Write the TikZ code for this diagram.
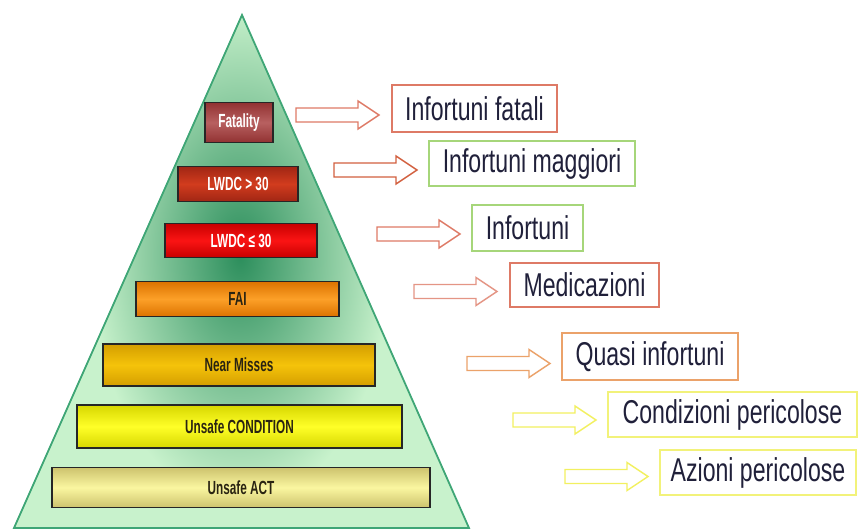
\documentclass[tikz,border=0pt]{standalone}
\usepackage{fontspec}
\setmainfont{Liberation Sans}
\newfontfamily\lblfont{Liberation Sans}[FakeStretch=0.70]
\newfontfamily\pyrfont{Liberation Sans}[FakeStretch=0.62]
\definecolor{mint}{HTML}{C8F2CC}
\definecolor{pyredge}{HTML}{3FA676}
\definecolor{deepgreen}{HTML}{2C8E5C}
\definecolor{ink}{HTML}{20203A}
\definecolor{darkink}{HTML}{2A2412}
\definecolor{salmon}{HTML}{DE7A66}
\definecolor{rust}{HTML}{D2603F}
\definecolor{leaf}{HTML}{A6D67A}
\definecolor{peach}{HTML}{EBA26A}
\definecolor{paleyel}{HTML}{F2F27A}
\definecolor{arryel}{HTML}{F2F060}
% tier colours: edge shade / centre shade
\definecolor{fatA}{RGB}{145,50,50}    \definecolor{fatB}{RGB}{184,96,96}
\definecolor{lwaA}{RGB}{160,38,20}    \definecolor{lwaB}{RGB}{210,60,30}
\definecolor{lwbA}{RGB}{200,0,0}      \definecolor{lwbB}{RGB}{250,20,20}
\definecolor{faiA}{RGB}{220,115,0}    \definecolor{faiB}{RGB}{252,160,40}
\definecolor{nmA}{RGB}{212,158,0}     \definecolor{nmB}{RGB}{245,195,10}
\definecolor{ucA}{RGB}{215,215,0}     \definecolor{ucB}{RGB}{255,255,40}
\definecolor{uaA}{RGB}{205,195,110}   \definecolor{uaB}{RGB}{250,246,160}
\begin{document}
\begin{tikzpicture}[x=1pt,y=-1pt,
  tier/.style={draw=black!85, line width=1.3pt, inner sep=0pt,
    font=\pyrfont\bfseries\fontsize{19}{19}\selectfont},
  tiershade/.style 2 args={top color=#1, bottom color=#1, middle color=#2},
  lbl/.style={draw=#1, line width=1.3pt, fill=white, inner sep=0pt,
    text=ink, font=\lblfont\fontsize{33}{33}\selectfont},
  pics/blockarrow/.style={code={
    \draw[#1, line width=1.4pt, line join=miter, fill=white]
      (0,-7) -- (62,-7) -- (62,-14) -- (83,0) -- (62,14)
      -- (62,7) -- (0,7) -- cycle;}}]
\useasboundingbox (0,0) rectangle (860,530);

% pyramid body with its soft green core
\coordinate (apex) at (242,15);
\coordinate (baseL) at (14,528);
\coordinate (baseR) at (469,528);
\fill[mint] (apex) -- (baseL) -- (baseR) -- cycle;
\begin{scope}
  \clip (apex) -- (baseL) -- (baseR) -- cycle;
  \shade[inner color=deepgreen, outer color=mint]
    (240,255) ellipse [x radius=150, y radius=250];
\end{scope}
\draw[pyredge, line width=1.8pt, line join=miter] (apex) -- (baseL) -- (baseR) -- cycle;

% tiers of the pyramid
\node[tier, tiershade={fatA}{fatB}, minimum width=68, minimum height=40, text=white]
  (fat) at (239,122.5) {Fatality};
\node[tier, tiershade={lwaA}{lwaB}, minimum width=120, minimum height=35, text=white]
  (lw1) at (238,184) {LWDC > 30};
\node[tier, tiershade={lwbA}{lwbB}, minimum width=152, minimum height=34, text=white]
  (lw2) at (241,240.5) {LWDC ≤ 30};
\node[tier, tiershade={faiA}{faiB}, minimum width=203, minimum height=35, text=darkink]
  (fai) at (237.5,299) {FAI};
\node[tier, tiershade={nmA}{nmB}, minimum width=272, minimum height=42, text=darkink]
  (nm) at (239,365) {Near Misses};
\node[tier, tiershade={ucA}{ucB}, minimum width=325, minimum height=43, text=darkink]
  (uc) at (239.5,426.5) {Unsafe CONDITION};
\node[tier, tiershade={uaA}{uaB}, minimum width=378, minimum height=40, text=darkink]
  (ua) at (241,487.5) {Unsafe ACT};

% descriptions
\node[lbl=salmon, minimum width=165, minimum height=47] (d1) at (474.5,108.5) {Infortuni fatali};
\node[lbl=leaf, minimum width=206, minimum height=45] (d2) at (532,163.5) {Infortuni maggiori};
\node[lbl=leaf, minimum width=111, minimum height=46] (d3) at (527.5,228) {Infortuni};
\node[lbl=salmon, minimum width=149, minimum height=44] (d4) at (584.5,285) {Medicazioni};
\node[lbl=peach, minimum width=176, minimum height=47] (d5) at (650,356.5) {Quasi infortuni};
\node[lbl=paleyel, minimum width=249, minimum height=45] (d6) at (732.5,414.5) {Condizioni pericolose};
\node[lbl=paleyel, minimum width=196, minimum height=45] (d7) at (758,472.5) {Azioni pericolose};

% block arrows from each tier to its description
\pic at (296,115) {blockarrow=salmon};
\pic at (334,170) {blockarrow=rust};
\pic at (377,234) {blockarrow=salmon};
\pic at (414,291.5) {blockarrow={salmon!80!white}};
\pic at (467,363.5) {blockarrow=peach};
\pic at (513,420) {blockarrow=arryel};
\pic at (565,476.5) {blockarrow=arryel};
\end{tikzpicture}
\end{document}
